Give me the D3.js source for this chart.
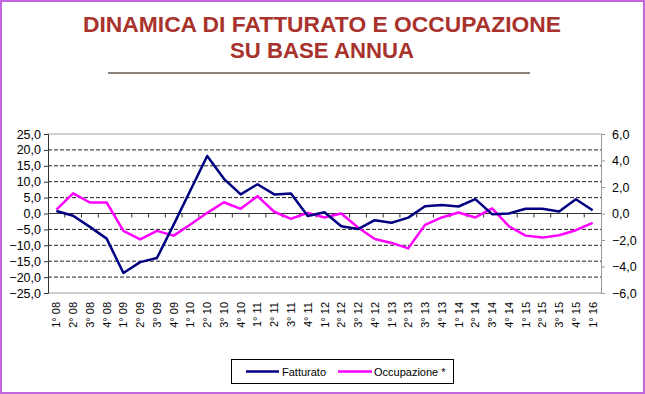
<!DOCTYPE html>
<html><head><meta charset="utf-8">
<script src="https://cdn.jsdelivr.net/npm/d3@7"></script>
<style>
html,body{margin:0;padding:0;background:#fff;}
svg{display:block;font-family:"Liberation Sans",Arial,sans-serif;}
</style></head>
<body>
<svg id="c" width="645" height="394"></svg>
<script>
const categories = ["1° 08","2° 08","3° 08","4° 08","1° 09","2° 09","3° 09","4° 09","1° 10","2° 10","3° 10","4° 10","1° 11","2° 11","3° 11","4° 11","1° 12","2° 12","3° 12","4° 12","1° 13","2° 13","3° 13","4° 13","1° 14","2° 14","3° 14","4° 14","1° 15","2° 15","3° 15","4° 15","1° 16"];
const fatturato = [0.8,-0.7,-4.2,-7.9,-18.7,-15.3,-14.0,-3.5,7.3,18.1,10.9,6.0,9.2,6.0,6.3,-0.8,0.4,-4.0,-4.9,-2.1,-2.9,-1.3,2.3,2.7,2.2,4.5,-0.2,0.0,1.5,1.5,0.6,4.5,1.0];
const occupazione = [0.30,1.52,0.83,0.83,-1.31,-1.95,-1.31,-1.67,-0.83,0.05,0.85,0.35,1.31,0.13,-0.40,0.05,-0.30,0.0,-1.06,-1.92,-2.22,-2.63,-0.86,-0.30,0.08,-0.30,0.38,-0.96,-1.67,-1.82,-1.64,-1.26,-0.71];
const leftTicks = [-25,-20,-15,-10,-5,0,5,10,15,20,25];
const rightTicks = [-6,-4,-2,0,2,4,6];
const titleLines = ["DINAMICA DI FATTURATO E OCCUPAZIONE","SU BASE ANNUA"];
const seriesNames = ["Fatturato","Occupazione *"];
const colors = ["#000080","#FF00FF"];

const svg = d3.select("#c");
const L = 48, R = 601, T = 134, B = 293;
const fmt = v => d3.format(".1f")(v).replace(".", ",");

// outer border
svg.append("rect").attr("x",1).attr("y",1).attr("width",643).attr("height",392)
  .attr("fill","#fff").attr("stroke","#C266E0").attr("stroke-width",2);

// title
const titleSpecs = [{y:32, w:478}, {y:58, w:184}];
titleLines.forEach((t,i)=>{
  svg.append("text").attr("x",322).attr("y",titleSpecs[i].y)
    .attr("text-anchor","middle").attr("font-size",22.5).attr("font-weight","bold")
    .attr("font-family","'Liberation Sans Narrow','Arial Narrow','Liberation Sans',Arial,sans-serif")
    .attr("fill","#A8322C")
    .attr("textLength",titleSpecs[i].w).attr("lengthAdjust","spacingAndGlyphs")
    .text(t);
});
svg.append("line").attr("x1",108).attr("x2",530).attr("y1",73).attr("y2",73)
  .attr("stroke","#8C8078").attr("stroke-width",2);

const x = d3.scaleBand().domain(categories).range([L,R]);
const cx = c => x(c) + x.bandwidth()/2;
const yL = d3.scaleLinear().domain([-25,25]).range([B,T]);
const yR = d3.scaleLinear().domain([-6,6]).range([B,T]);

// gridlines
svg.append("g").selectAll("line").data(leftTicks.filter(v=>v!==0 && Math.abs(v)!==25)).join("line")
  .attr("x1",L).attr("x2",R).attr("y1",d=>yL(d)).attr("y2",d=>yL(d))
  .attr("stroke","#222").attr("stroke-width",1).attr("stroke-dasharray","4,2");
// plot border top/bottom
[25,-25].forEach(v=>{
  svg.append("line").attr("x1",L).attr("x2",R).attr("y1",yL(v)).attr("y2",yL(v))
    .attr("stroke","#A0A0A0").attr("stroke-width",1);
});

// left axis
const gl = svg.append("g").attr("transform",`translate(${L},0)`)
  .call(d3.axisLeft(yL).tickValues(leftTicks).tickFormat(fmt).tickSize(4).tickPadding(3));
gl.select(".domain").attr("stroke","#333");
gl.selectAll(".tick line").attr("stroke","#333");
gl.selectAll("text").attr("font-size",12.5).attr("fill","#000").attr("font-family","Liberation Sans, Arial, sans-serif");

// right axis
const gr = svg.append("g").attr("transform",`translate(${R},0)`)
  .call(d3.axisRight(yR).tickValues(rightTicks).tickFormat(fmt).tickSize(4).tickPadding(7));
gr.select(".domain").attr("stroke","#999");
gr.selectAll(".tick line").attr("stroke","#999");
gr.selectAll("text").attr("font-size",12.5).attr("fill","#000").attr("font-family","Liberation Sans, Arial, sans-serif");

// category axis at zero
const gx = svg.append("g").attr("transform",`translate(0,${yL(0)})`);
gx.append("line").attr("x1",L).attr("x2",R).attr("y1",0).attr("y2",0).attr("stroke","#333").attr("stroke-width",1);
gx.selectAll("line.tk").data(d3.range(1,categories.length)).join("line").attr("class","tk")
  .attr("x1",i=>L+i*x.step()).attr("x2",i=>L+i*x.step()).attr("y1",0).attr("y2",4)
  .attr("stroke","#333");

// x labels
svg.append("g").selectAll("text").data(categories).join("text")
  .attr("transform",d=>`translate(${cx(d)+4},302) rotate(-90)`)
  .attr("text-anchor","end").attr("font-size",11).attr("fill","#000")
  .text(d=>d);

// lines
const lineF = d3.line().x((d,i)=>cx(categories[i])).y(d=>yL(d));
const lineO = d3.line().x((d,i)=>cx(categories[i])).y(d=>yR(d));
svg.append("path").datum(occupazione).attr("d",lineO).attr("fill","none")
  .attr("stroke",colors[1]).attr("stroke-width",2.5).attr("stroke-linejoin","round");
svg.append("path").datum(fatturato).attr("d",lineF).attr("fill","none")
  .attr("stroke",colors[0]).attr("stroke-width",2.5).attr("stroke-linejoin","round");

// legend
const lg = svg.append("g");
lg.append("rect").attr("x",231.5).attr("y",359.5).attr("width",222).attr("height",24)
  .attr("fill","#fff").attr("stroke","#000").attr("stroke-width",1);
const legX = [[246,279,282],[338,372,374]];
seriesNames.forEach((n,i)=>{
  lg.append("line").attr("x1",legX[i][0]).attr("x2",legX[i][1]).attr("y1",371.5).attr("y2",371.5)
    .attr("stroke",colors[i]).attr("stroke-width",2.5);
  lg.append("text").attr("x",legX[i][2]).attr("y",375.5).attr("font-size",11).attr("fill","#000").text(n);
});
</script>
</body></html>
